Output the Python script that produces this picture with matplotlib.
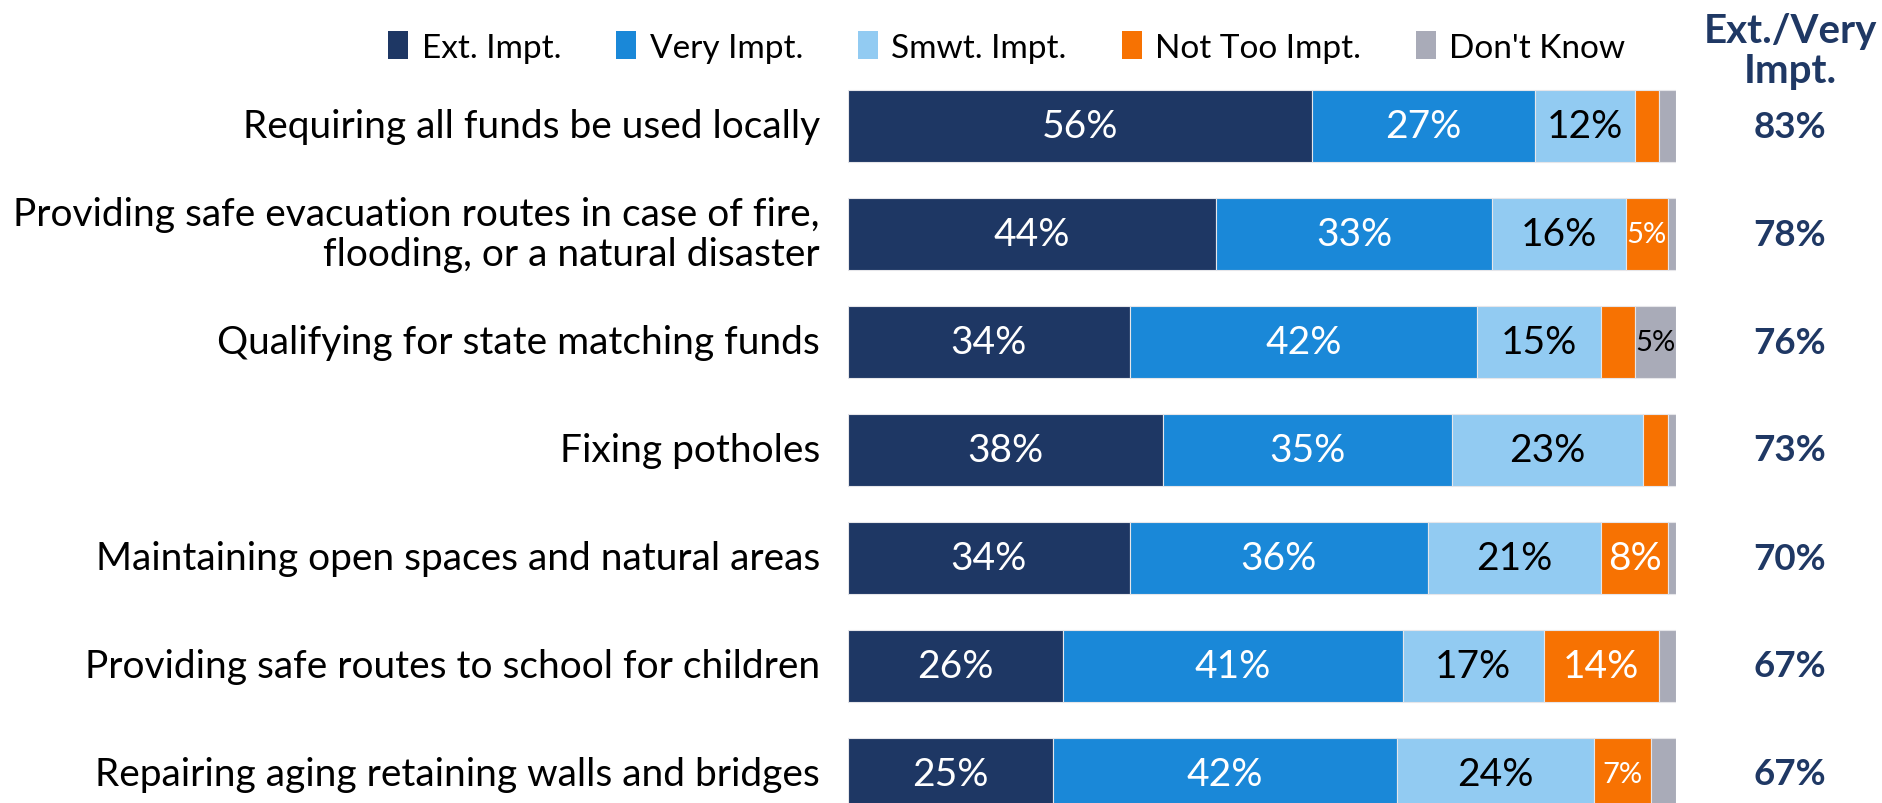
import matplotlib
matplotlib.use("Agg")
import matplotlib.pyplot as plt
import numpy as np

plt.rcParams['font.family'] = ['Lato', 'DejaVu Sans']

categories = [
    "Requiring all funds be used locally",
    "Providing safe evacuation routes in case of fire,\nflooding, or a natural disaster",
    "Qualifying for state matching funds",
    "Fixing potholes",
    "Maintaining open spaces and natural areas",
    "Providing safe routes to school for children",
    "Repairing aging retaining walls and bridges",
]
series_names = ["Ext. Impt.", "Very Impt.", "Smwt. Impt.", "Not Too Impt.", "Don't Know"]
ext_impt = [56, 44, 34, 38, 34, 26, 25]
very_impt = [27, 33, 42, 35, 36, 41, 42]
smwt_impt = [12, 16, 15, 23, 21, 17, 24]
not_too_impt = [3, 5, 4, 3, 8, 14, 7]
dont_know = [2, 1, 5, 1, 1, 2, 3]
ext_very = ["83%", "78%", "76%", "73%", "70%", "67%", "67%"]

colors = ["#1E3764", "#1A88D8", "#92CBF2", "#F77202", "#A9ABB8"]
label_colors = ["white", "white", "black", "white", "black"]
min_label = [0, 0, 0, 5, 5]

W, H = 1883, 804
fig = plt.figure(figsize=(W / 100, H / 100), dpi=100)

left_px, right_px = 848, 1676
row0_px, step_px = 127, 108
ax = fig.add_axes([left_px / W, 0, (right_px - left_px) / W, 1])
ax.set_xlim(0, 100)
ytop = -row0_px / step_px
ybot = (H - row0_px) / step_px
ax.set_ylim(ybot, ytop)
ax.axis('off')

data = np.array([ext_impt, very_impt, smwt_impt, not_too_impt, dont_know], dtype=float)
totals = data.sum(axis=0)
shares = data / totals * 100

y = np.arange(len(categories))
left = np.zeros(len(categories))
for k in range(len(series_names)):
    ax.barh(y, shares[k], left=left, height=0.667, color=colors[k],
            edgecolor='#E6E6EA', linewidth=0.8, label=series_names[k])
    for i in range(len(categories)):
        v = data[k, i]
        if v >= min_label[k] and v > 0:
            fs = 28 if shares[k, i] >= 7 else 21
            ax.text(left[i] + shares[k, i] / 2, y[i], f"{int(v)}%",
                    ha='center', va='center', fontsize=fs, color=label_colors[k])
    left += shares[k]

for i, c in enumerate(categories):
    ax.text(-3.4, y[i], c, ha='right', va='center', fontsize=28,
            color='black', linespacing=1.12)

xr = 100 + (1790 - right_px) / (right_px - left_px) * 100
for i, t in enumerate(ext_very):
    ax.text(xr, y[i], t, ha='center', va='center', fontsize=26.5,
            fontweight='bold', color='#1F3864')
ax.text(xr, ytop + 52 / step_px, "Ext./Very\nImpt.", ha='center', va='center',
        fontsize=29, fontweight='bold', color='#1F3864', linespacing=1.1)

handles, labels = ax.get_legend_handles_labels()
leg = fig.legend(handles, labels, loc='center', bbox_to_anchor=(1007 / W, 1 - 48 / H),
                 ncol=5, frameon=False, fontsize=24, handlelength=0.6, handleheight=0.9,
                 handletextpad=0.4, columnspacing=1.65)
for h in leg.legend_handles:
    h.set_edgecolor('none')

fig.savefig("out.png", dpi=100)
